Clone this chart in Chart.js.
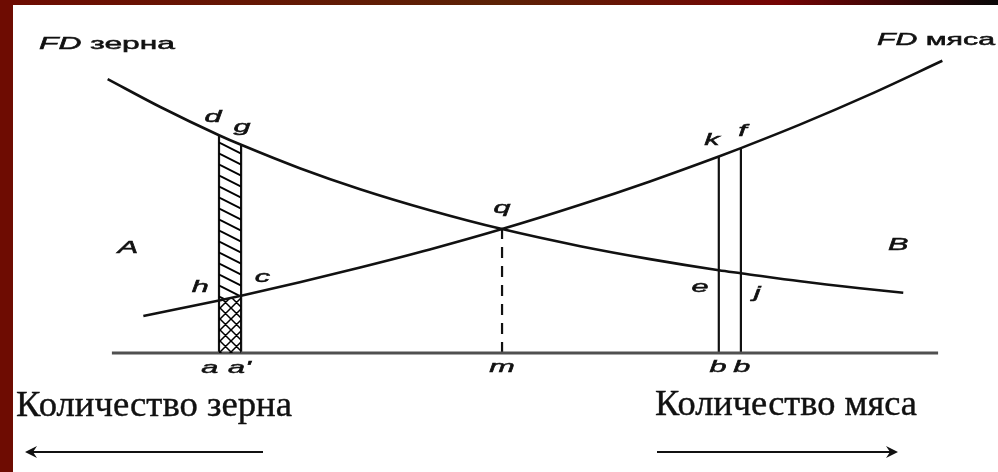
<!DOCTYPE html>
<html>
<head>
<meta charset="utf-8">
<script src="https://cdn.jsdelivr.net/npm/chart.js@4.4.1/dist/chart.umd.min.js"></script>
<style>
  html, body { margin: 0; padding: 0; background: #fff; overflow: hidden; }
  canvas { display: block; }
</style>
</head>
<body>
<canvas id="chart" width="998" height="472"></canvas>
<script>
// FD зерна - falling curve
const grainX = [0.9, 7.1, 14.0, 16.6, 23.5, 30.6, 38.8, 47.3, 56.5, 64.7, 72.8, 75.4, 82.4, 89.4, 94.5];
const grainY = [91.3, 82.0, 72.6, 69.4, 61.6, 54.6, 47.6, 41.3, 35.6, 31.3, 27.6, 26.6, 23.9, 21.6, 20.1];

// FD мяса - rising curve
const meatX = [5.1, 9.4, 14.0, 16.6, 23.5, 30.6, 38.8, 47.3, 56.5, 64.7, 72.8, 75.4, 82.4, 90.6, 99.1];
const meatY = [12.3, 14.8, 17.5, 19.1, 23.6, 28.5, 34.5, 41.3, 49.4, 57.2, 65.5, 68.3, 76.2, 86.2, 97.4];

// vertical guides: a, a', m (dashed), b, b
const guideX = [14.0, 16.6, 47.3, 72.8, 75.4];
const guideTop = [72.6, 69.4, 41.3, 65.5, 68.3];
const guideDashed = [false, false, true, false, false];

// hatched strip between a and a'
const hatchX = [14.0, 16.6];
const hatchTop = [72.6, 69.4];
const hatchMid = [17.5, 19.1];

// horizontal axis line
const baseX = [1.4, 98.6];

// point letters
const letters = ['d', 'g', 'q', 'k', 'f', 'A', 'B', 'h', 'c', 'e', 'j', 'a', "a'", 'm', 'b', 'b'];
const letterX = [13.3, 16.7, 47.3, 72.0, 75.6, 3.3, 93.9, 11.8, 19.1, 70.6, 77.3, 12.9, 16.4, 47.3, 72.7, 75.5];
const letterY = [78.7, 75.3, 48.3, 71.0, 74.0, 35, 36, 22, 25.3, 22, 20, -5, -5, -4.7, -4.7, -4.7];

const toPoints = (xs, ys) => xs.map((x, i) => ({ x: x, y: ys[i] }));

// hatch patterns for the strip
function makePattern(w, h, cross) {
  const c = document.createElement('canvas');
  c.width = w; c.height = h;
  const g = c.getContext('2d');
  g.strokeStyle = '#000';
  g.lineWidth = cross ? 1.5 : 2;
  g.beginPath();
  for (let k = -1; k <= 1; k++) {
    g.moveTo(-w, -h + k * h); g.lineTo(2 * w, 2 * h + k * h);
    if (cross) { g.moveTo(-w, 2 * h + k * h); g.lineTo(2 * w, -h + k * h); }
  }
  g.stroke();
  return g.createPattern(c, 'repeat');
}
const diagPattern = makePattern(22, 11, false);
const crossPattern = makePattern(11, 11, true);

const lineBase = { showLine: true, pointRadius: 0, clip: false, fill: false };

const datasets = [
  Object.assign({}, lineBase, { data: toPoints(grainX, grainY), borderColor: '#111', borderWidth: 2.6, cubicInterpolationMode: 'monotone' }),
  Object.assign({}, lineBase, { data: toPoints(meatX, meatY), borderColor: '#111', borderWidth: 2.6, cubicInterpolationMode: 'monotone' }),
  Object.assign({}, lineBase, { data: toPoints(hatchX, hatchTop), borderWidth: 0, borderColor: 'rgba(0,0,0,0)', fill: '+1', backgroundColor: diagPattern }),
  Object.assign({}, lineBase, { data: toPoints(hatchX, hatchMid), borderWidth: 0, borderColor: 'rgba(0,0,0,0)', fill: 'origin', backgroundColor: crossPattern }),
  Object.assign({}, lineBase, { data: toPoints(baseX, [0, 0]), borderColor: '#505050', borderWidth: 3 })
];
guideX.forEach((gx, i) => {
  datasets.push(Object.assign({}, lineBase, {
    data: [{ x: gx, y: 0 }, { x: gx, y: guideTop[i] }],
    borderColor: '#111',
    borderWidth: 2.2,
    borderDash: guideDashed[i] ? [11, 8] : []
  }));
});

// white page with the dark red frame
const framePlugin = {
  id: 'frame',
  beforeDraw(chart) {
    const ctx = chart.ctx;
    const w = chart.width, h = chart.height;
    ctx.save();
    ctx.fillStyle = '#fff';
    ctx.fillRect(0, 0, w, h);
    const grad = ctx.createLinearGradient(0, 0, w, 0);
    grad.addColorStop(0, '#6e0c02');
    grad.addColorStop(0.5, '#5c2206');
    grad.addColorStop(0.78, '#760404');
    grad.addColorStop(1, '#080808');
    ctx.fillStyle = grad;
    ctx.fillRect(0, 0, w, 5);
    ctx.fillStyle = '#6e0c02';
    ctx.fillRect(0, 0, 13, h);
    ctx.restore();
  }
};

function drawArrow(ctx, x1, x2, y) {
  const dir = Math.sign(x2 - x1);
  ctx.beginPath();
  ctx.moveTo(x1, y);
  ctx.lineTo(x2 - dir * 4, y);
  ctx.stroke();
  ctx.beginPath();
  ctx.moveTo(x2, y);
  ctx.lineTo(x2 - dir * 12, y - 6);
  ctx.lineTo(x2 - dir * 8, y);
  ctx.lineTo(x2 - dir * 12, y + 6);
  ctx.closePath();
  ctx.fill();
}

function fitText(ctx, text, x, y, width) {
  const w = ctx.measureText(text).width;
  ctx.save();
  ctx.translate(x, y);
  ctx.scale(width / w, 1);
  ctx.fillText(text, 0, 0);
  ctx.strokeText(text, 0, 0);
  ctx.restore();
}

// the scan is stretched sideways, so are its letters
const STRETCH = 1.8;

const labelPlugin = {
  id: 'labels',
  afterDatasetsDraw(chart) {
    const ctx = chart.ctx;
    const xs = chart.scales.x, ys = chart.scales.y;
    ctx.save();
    ctx.fillStyle = '#111';
    ctx.strokeStyle = '#111';
    ctx.lineWidth = 0.5;

    // point letters
    ctx.font = 'italic 17px "Liberation Sans"';
    ctx.textAlign = 'center';
    ctx.textBaseline = 'middle';
    letters.forEach((t, i) => {
      ctx.save();
      ctx.translate(xs.getPixelForValue(letterX[i]), ys.getPixelForValue(letterY[i]));
      ctx.scale(STRETCH, 1);
      ctx.fillText(t, 0, 0);
      ctx.strokeText(t, 0, 0);
      ctx.restore();
    });

    // curve names
    ctx.textAlign = 'left';
    [['зерна', 39, 44, 136], ['мяса', 877, 40, 118]].forEach(([word, x, y, width]) => {
      ctx.font = 'italic 17px "Liberation Sans"';
      const fw = ctx.measureText('FD ').width;
      ctx.font = '17px "Liberation Sans"';
      const ww = ctx.measureText(word).width;
      const s = width / (fw + ww);
      ctx.save();
      ctx.translate(x, y);
      ctx.scale(s, 1);
      ctx.font = 'italic 17px "Liberation Sans"';
      ctx.fillText('FD', 0, 0);
      ctx.strokeText('FD', 0, 0);
      ctx.font = '17px "Liberation Sans"';
      ctx.fillText(word, fw, 0);
      ctx.strokeText(word, fw, 0);
      ctx.restore();
    });

    // quantity captions and arrows
    ctx.textBaseline = 'alphabetic';
    ctx.font = '35px "Liberation Serif"';
    ctx.lineWidth = 0.4;
    fitText(ctx, 'Количество зерна', 16, 416, 276);
    fitText(ctx, 'Количество мяса', 655, 415, 262);
    ctx.lineWidth = 2;
    drawArrow(ctx, 263, 25, 452);
    drawArrow(ctx, 657, 898, 452);
    ctx.restore();
  }
};

new Chart(document.getElementById('chart'), {
  type: 'scatter',
  data: { datasets: datasets },
  options: {
    responsive: false,
    devicePixelRatio: 1,
    animation: false,
    layout: { padding: { left: 100, right: 48, top: 53, bottom: 119 } },
    plugins: { legend: { display: false }, tooltip: { enabled: false } },
    scales: {
      x: { type: 'linear', min: 0, max: 100, display: false },
      y: { type: 'linear', min: 0, max: 100, display: false }
    }
  },
  plugins: [framePlugin, labelPlugin]
});
</script>
</body>
</html>
